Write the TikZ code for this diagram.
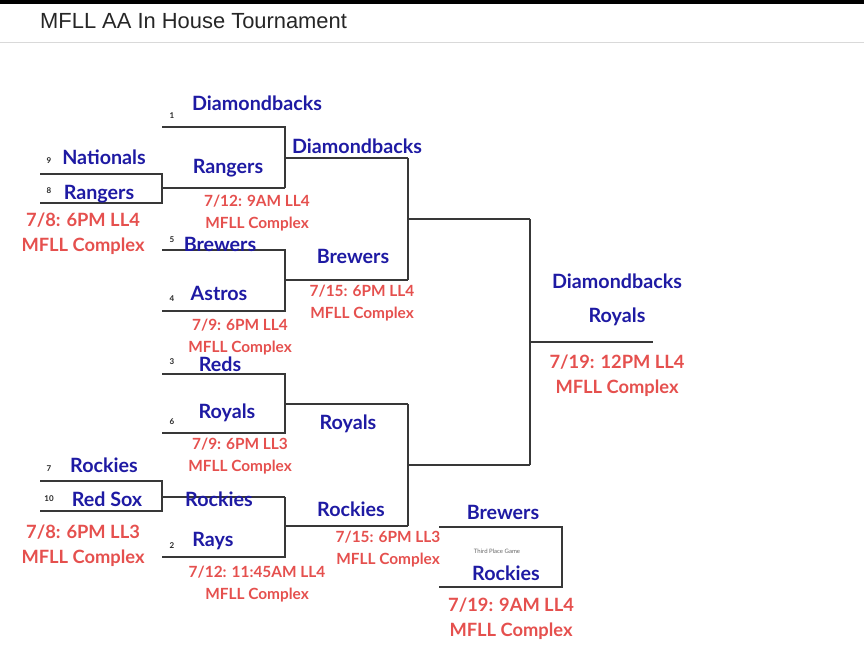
\documentclass[tikz,border=0pt]{standalone}
\usepackage{fontspec}
\setmainfont{Lato}
\newfontfamily\titlefont{Liberation Sans}
\definecolor{teamblue}{HTML}{1E1AA3}
\definecolor{datered}{HTML}{E5504E}
\definecolor{linegray}{HTML}{383838}
\tikzset{
  team/.style={font=\bfseries\fontsize{19.7}{19.7}\selectfont,text=teamblue,inner sep=0pt},
  seed/.style={font=\bfseries\fontsize{8}{8}\selectfont,text=black!85,inner sep=0pt},
  when/.style={font=\bfseries\fontsize{15.4}{22}\selectfont,text=datered,align=center,inner sep=0pt},
  bigwhen/.style={font=\bfseries\fontsize{18.3}{25}\selectfont,text=datered,align=center,inner sep=0pt},
  bracket/.style={linegray,line width=1.3pt}
}
\begin{document}
\begin{tikzpicture}[x=1pt,y=-1pt]
\useasboundingbox (0,0) rectangle (864,665);
\fill[black] (0,0) rectangle (864,4);
\draw[gray!30,line width=1pt] (0,42)--(864,42);
\node[anchor=west,inner sep=0pt,text=black!85] at (40,21) (title) {\titlefont\fontsize{21.9}{21.9}\selectfont MFLL AA In House Tournament};
% first round
\draw[bracket] (40,174)--(162,174)--(162,203)--(40,203);
\draw[bracket] (162,188)--(285,188);
\draw[bracket] (40,481)--(162,481)--(162,511)--(40,511);
\draw[bracket] (162,497)--(285,497);
% second round
\draw[bracket] (162,127)--(285,127)--(285,188);
\draw[bracket] (285,158)--(408,158);
\draw[bracket] (162,250)--(285,250)--(285,311)--(162,311);
\draw[bracket] (285,280)--(408,280);
\draw[bracket] (162,374)--(285,374)--(285,433)--(162,433);
\draw[bracket] (285,404)--(408,404);
\draw[bracket] (285,497)--(285,557)--(162,557);
\draw[bracket] (285,526)--(408,526);
% semis and final
\draw[bracket] (408,158)--(408,280);
\draw[bracket] (408,219)--(530,219);
\draw[bracket] (408,404)--(408,526);
\draw[bracket] (408,465)--(530,465);
\draw[bracket] (530,219)--(530,465);
\draw[bracket] (530,342)--(653,342);
\draw[bracket] (439,527)--(562,527)--(562,587)--(439,587);
% seeds
\node[seed] at (172,116) (s1) {1};
\node[seed] at (49,161) (s9) {9};
\node[seed] at (49,191) (s8) {8};
\node[seed] at (172,240) (s5) {5};
\node[seed] at (172,299) (s4) {4};
\node[seed] at (172,362) (s3) {3};
\node[seed] at (172,422) (s6) {6};
\node[seed] at (49,469) (s7) {7};
\node[seed] at (49,499) (s10) {10};
\node[seed] at (172,546) (s2) {2};
% teams
\node[team] at (257,103) (dbk1) {Diamondbacks};
\node[team] at (104,157) (nat) {Nationals};
\node[team] at (99,194) (ran8) {Rangers};
\node[team] at (228,168) (ran2) {Rangers};
\node[team] at (357,146) (dbk2) {Diamondbacks};
\node[team] at (220,244) (brw5) {Brewers};
\node[team] at (353,256) (brw3) {Brewers};
\node[team] at (219,293) (ast) {Astros};
\node[team] at (220,364) (red) {Reds};
\node[team] at (227,413) (roy6) {Royals};
\node[team] at (348,424) (roy3) {Royals};
\node[team] at (617,281) (dbkF) {Diamondbacks};
\node[team] at (617,317) (royF) {Royals};
\node[team] at (104,465) (roc7) {Rockies};
\node[team] at (107,499) (sox) {Red Sox};
\node[team] at (219,499) (roc2) {Rockies};
\node[team] at (213,541) (ray) {Rays};
\node[team] at (351,509) (roc3) {Rockies};
\node[team] at (503,512) (brwT) {Brewers};
\node[team] at (506,573) (rocT) {Rockies};
\node[inner sep=0pt,text=black!60,font=\fontsize{6}{6}\selectfont] at (497,551) (third) {Third Place Game};
% dates
\node[bigwhen] at (83,233.5) (d1) {7/8: 6PM LL4\\MFLL Complex};
\node[when] at (257,213) (d2) {7/12: 9AM LL4\\MFLL Complex};
\node[when] at (240,337) (d3) {7/9: 6PM LL4\\MFLL Complex};
\node[when] at (362,303.5) (d4) {7/15: 6PM LL4\\MFLL Complex};
\node[when] at (240,456.5) (d5) {7/9: 6PM LL3\\MFLL Complex};
\node[bigwhen] at (83,545.5) (d6) {7/8: 6PM LL3\\MFLL Complex};
\node[when] at (257,584) (d7) {7/12: 11:45AM LL4\\MFLL Complex};
\node[when] at (388,549.5) (d8) {7/15: 6PM LL3\\MFLL Complex};
\node[bigwhen] at (617,376) (d9) {7/19: 12PM LL4\\MFLL Complex};
\node[bigwhen] at (511,618.5) (d10) {7/19: 9AM LL4\\MFLL Complex};
\end{tikzpicture}
\end{document}
